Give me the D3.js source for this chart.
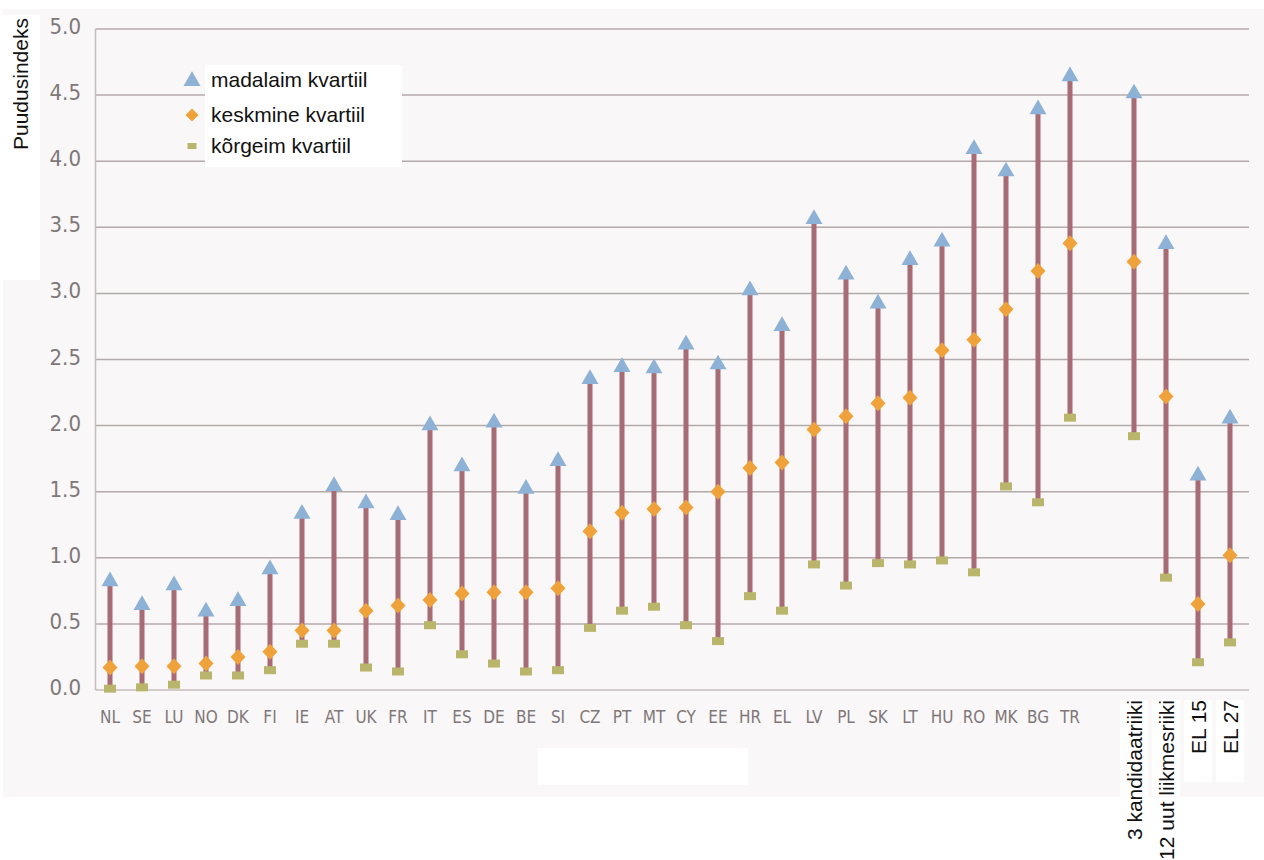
<!DOCTYPE html>
<html>
<head>
<meta charset="utf-8">
<script src="https://cdn.jsdelivr.net/npm/d3@7.9.0/dist/d3.min.js"></script>
<style>
  html, body { margin: 0; padding: 0; background: #fff; }
  svg { display: block; }
  .tick-label { font-family: "Liberation Sans Narrow", "DejaVu Sans Condensed", "Liberation Sans", sans-serif; fill: #7f7779; }
  .black-label { font-family: "Liberation Sans", Arial, sans-serif; fill: #111; }
</style>
</head>
<body>
<svg id="chart" width="1264" height="860"></svg>
<script>
// Countries (plus an empty slot before the group averages)
const countries = ['NL', 'SE', 'LU', 'NO', 'DK', 'FI', 'IE', 'AT', 'UK', 'FR', 'IT', 'ES', 'DE', 'BE', 'SI',
  'CZ', 'PT', 'MT', 'CY', 'EE', 'HR', 'EL', 'LV', 'PL', 'SK', 'LT', 'HU', 'RO', 'MK', 'BG', 'TR'];
const groups = ['3 kandidaatriiki', '12 uut liikmesriiki', 'EL 15', 'EL 27'];

// madalaim kvartiil (top marker)
const lowestQuartile = [0.83, 0.65, 0.80, 0.60, 0.68, 0.92, 1.34, 1.55, 1.42, 1.33, 2.01, 1.70, 2.03, 1.53, 1.74,
  2.36, 2.45, 2.44, 2.62, 2.47, 3.03, 2.76, 3.57, 3.15, 2.93, 3.26, 3.40, 4.10, 3.93, 4.40, 4.65,
  4.52, 3.38, 1.63, 2.06];
// keskmine kvartiil
const middleQuartile = [0.17, 0.18, 0.18, 0.20, 0.25, 0.29, 0.45, 0.45, 0.60, 0.64, 0.68, 0.73, 0.74, 0.74, 0.77,
  1.20, 1.34, 1.37, 1.38, 1.50, 1.68, 1.72, 1.97, 2.07, 2.17, 2.21, 2.57, 2.65, 2.88, 3.17, 3.38,
  3.24, 2.22, 0.65, 1.02];
// kõrgeim kvartiil (bottom marker)
const highestQuartile = [0.01, 0.02, 0.04, 0.11, 0.11, 0.15, 0.35, 0.35, 0.17, 0.14, 0.49, 0.27, 0.20, 0.14, 0.15,
  0.47, 0.60, 0.63, 0.49, 0.37, 0.71, 0.60, 0.95, 0.79, 0.96, 0.95, 0.98, 0.89, 1.54, 1.42, 2.06,
  1.92, 0.85, 0.21, 0.36];

const yTicks = [0, 0.5, 1, 1.5, 2, 2.5, 3, 3.5, 4, 4.5, 5];
const legendLabels = ['madalaim kvartiil', 'keskmine kvartiil', 'kõrgeim kvartiil'];

const labels = countries.concat(groups);
const slots = countries.concat(['_gap'], groups);
const data = labels.map((name, i) => ({
  name,
  top: lowestQuartile[i],
  mid: middleQuartile[i],
  low: highestQuartile[i]
}));

const colTri = '#8db2d6', colDia = '#f0a23a', colSq = '#b9b66c', colLine = '#a86a73';

const svg = d3.select('#chart');

// light panel background
svg.append('rect').attr('x', 3).attr('y', 9).attr('width', 1261).attr('height', 788).attr('fill', '#f9f7f7');

const x = d3.scalePoint().domain(slots).range([110, 1230]);
const y = d3.scaleLinear().domain([0, 5]).range([690, 29]);
const left = 95.5, right = 1249;

// grid lines
svg.append('g')
  .selectAll('line')
  .data(yTicks.slice(1))
  .join('line')
  .attr('x1', left).attr('x2', right)
  .attr('y1', d => y(d)).attr('y2', d => y(d))
  .attr('stroke', '#b3aaac').attr('stroke-width', 1.5);

// axes lines
svg.append('line').attr('x1', left).attr('x2', right).attr('y1', y(0)).attr('y2', y(0))
  .attr('stroke', '#c4bcbe').attr('stroke-width', 1.5);
svg.append('line').attr('x1', left).attr('x2', left).attr('y1', y(0)).attr('y2', y(5))
  .attr('stroke', '#c4bcbe').attr('stroke-width', 1.5);

// y tick labels
svg.append('g')
  .selectAll('text')
  .data(yTicks)
  .join('text')
  .attr('class', 'tick-label')
  .attr('x', 81).attr('y', d => y(d) + 5)
  .attr('text-anchor', 'end')
  .attr('font-size', 22)
  .text(d => d.toFixed(1));

// y axis title with white backing
svg.append('rect').attr('x', 3).attr('y', 15).attr('width', 37).attr('height', 265).attr('fill', '#fff');
svg.append('text').attr('class', 'black-label')
  .attr('transform', 'translate(28,150) rotate(-90)')
  .attr('font-size', 21)
  .text('Puudusindeks');

// x labels for countries
svg.append('g')
  .selectAll('text')
  .data(countries)
  .join('text')
  .attr('class', 'tick-label')
  .attr('x', d => x(d)).attr('y', 723)
  .attr('text-anchor', 'middle')
  .attr('font-size', 17)
  .text(d => d);

// rotated group labels with white backing
const boxH = { '3 kandidaatriiki': 96, '12 uut liikmesriiki': 96, 'EL 15': 82, 'EL 27': 82 };
groups.forEach(g => {
  svg.append('rect').attr('x', x(g) - 14).attr('y', 700).attr('width', 28).attr('height', boxH[g]).attr('fill', '#fff');
  svg.append('text').attr('class', 'black-label')
    .attr('transform', `translate(${x(g) + 8},700) rotate(-90)`)
    .attr('text-anchor', 'end')
    .attr('font-size', 21)
    .text(g);
});

// blank box below axis
svg.append('rect').attr('x', 538).attr('y', 748).attr('width', 210).attr('height', 37).attr('fill', '#fff');

// range lines
const marks = svg.append('g');
marks.selectAll('line')
  .data(data)
  .join('line')
  .attr('x1', d => x(d.name)).attr('x2', d => x(d.name))
  .attr('y1', d => y(d.low)).attr('y2', d => y(d.top))
  .attr('stroke', colLine).attr('stroke-width', 5);

const tri = d3.symbol().type(d3.symbolTriangle).size(125);
const dia = 'M0,-8L7.5,0L0,8L-7.5,0Z';

marks.selectAll('.sq')
  .data(data)
  .join('rect')
  .attr('class', 'sq')
  .attr('x', d => x(d.name) - 6).attr('y', d => y(d.low) - 4)
  .attr('width', 12).attr('height', 8)
  .attr('fill', colSq);

marks.selectAll('.dia')
  .data(data)
  .join('path')
  .attr('class', 'dia')
  .attr('d', dia)
  .attr('transform', d => `translate(${x(d.name)},${y(d.mid)})`)
  .attr('fill', colDia);

marks.selectAll('.tri')
  .data(data)
  .join('path')
  .attr('class', 'tri')
  .attr('d', tri)
  .attr('transform', d => `translate(${x(d.name)},${y(d.top) + 1})`)
  .attr('fill', colTri);

// legend
const legend = svg.append('g');
legend.append('rect').attr('x', 205).attr('y', 65).attr('width', 197).attr('height', 102).attr('fill', '#fff');
const legendY = [80, 115, 146];
legend.append('path').attr('d', tri).attr('transform', `translate(192,${legendY[0] + 1})`).attr('fill', colTri);
legend.append('path').attr('d', 'M0,-6.5L6.5,0L0,6.5L-6.5,0Z').attr('transform', `translate(192,${legendY[1]})`).attr('fill', colDia);
legend.append('rect').attr('x', 187.5).attr('y', legendY[2] - 3).attr('width', 9).attr('height', 6).attr('fill', colSq);
legend.selectAll('text')
  .data(legendLabels)
  .join('text')
  .attr('class', 'black-label')
  .attr('x', 211).attr('y', (d, i) => legendY[i] + 7)
  .attr('font-size', 21)
  .text(d => d);
</script>
</body>
</html>
